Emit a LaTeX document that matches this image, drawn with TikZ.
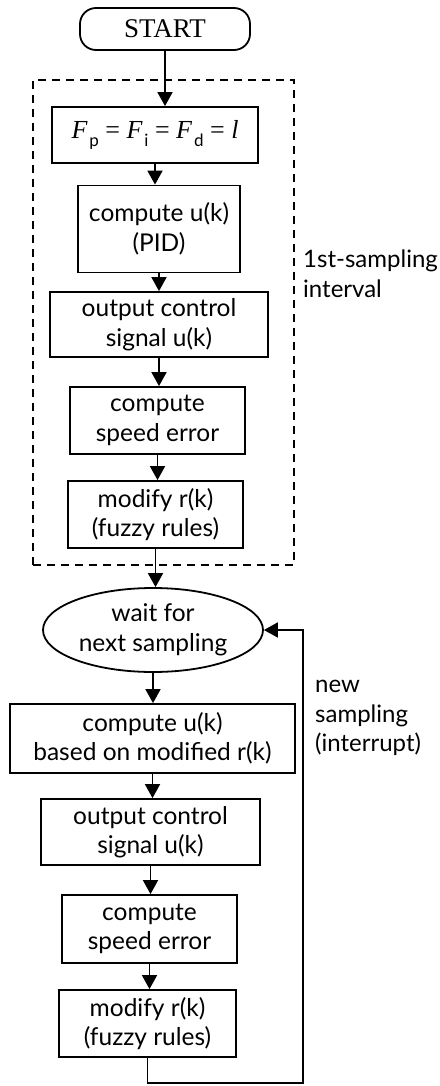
\documentclass[tikz,border=0pt]{standalone}
\usepackage{fontspec}
\setmainfont{Lato}
\newfontfamily\serf{Liberation Serif}
\newfontfamily\subfont{Lato}
\usetikzlibrary{arrows.meta,shapes.geometric}
% italic F with a small upright sans subscript
\newcommand\Fsub[1]{{\serf\itshape F}\kern2pt\raisebox{-8pt}{\subfont\fontsize{17}{17}\selectfont #1}}

\begin{document}
\begin{tikzpicture}[x=1pt,y=-1pt,
  box/.style={draw,line width=1.8pt,inner sep=0pt,align=center,
              font=\fontsize{24.5}{29.5}\selectfont},
  flow/.style={line width=1.8pt,-{Triangle[width=15pt,length=14pt]}},
  frame/.style={draw,line width=1.6pt,dash pattern=on 8pt off 6pt,inner sep=0pt},
  note/.style={inner sep=0pt,align=left,font=\fontsize{24}{29.5}\selectfont},
]
\useasboundingbox (0,0) rectangle (439,1086);
\fill[white] (0,0) rectangle (439,1086);

% first sampling interval
\node[frame, minimum width=261pt, minimum height=485pt] (first) at (163.5,322.5) {};

\node[box, rounded corners=16pt, minimum width=170pt, minimum height=42pt,
      font=\serf\fontsize{27}{30}\selectfont] (start) at (165,29) {START};
\node[box, minimum width=206pt, minimum height=56pt,
      font=\serf\fontsize{26}{30}\selectfont] (init) at (155,135)
      {\Fsub{p} = \Fsub{i} = \Fsub{d} = {\itshape l}};
\node[box, minimum width=162pt, minimum height=87pt] (pid) at (159,229) {compute u(k)\\(PID)};
\node[box, minimum width=218pt, minimum height=65pt] (out1) at (159,324.5) {output control\\signal u(k)};
\node[box, minimum width=175pt, minimum height=67pt] (err1) at (157.5,420.5) {compute\\speed error};
\node[box, minimum width=175pt, minimum height=67pt] (mod1) at (155.5,514.5) {modify r(k)\\(fuzzy rules)};

% regular sampling loop
\node[box, ellipse, minimum width=220pt, minimum height=84pt] (wait) at (153,630) {wait for\\next sampling};
\node[box, minimum width=285pt, minimum height=69pt] (cmp2) at (152.5,738.5) {compute u(k)\\based on modified r(k)};
\node[box, minimum width=219pt, minimum height=66pt] (out2) at (150.5,832) {output control\\signal u(k)};
\node[box, minimum width=175pt, minimum height=68pt] (err2) at (149.5,929) {compute\\speed error};
\node[box, minimum width=177pt, minimum height=67pt] (mod2) at (147.5,1023.5) {modify r(k)\\(fuzzy rules)};

\node[note, anchor=north west] (lab1) at (303,250) {1st-sampling\\interval};
\node[note, anchor=north west] (lab2) at (315,680) {new\\sampling\\(interrupt)};

\draw[flow] (start.south) -- (start.south |- init.north);
\draw[flow] (init.south) -- (init.south |- pid.north);
\draw[flow] (pid.south) -- (pid.south |- out1.north);
\draw[flow] (out1.south) -- (out1.south |- err1.north);
\draw[flow] (err1.south) -- (err1.south |- mod1.north);
\draw[flow] (mod1.south) -- (mod1.south |- wait.north);
\draw[flow] (wait.south) -- (wait.south |- cmp2.north);
\draw[flow] (cmp2.south) -- (cmp2.south |- out2.north);
\draw[flow] (out2.south) -- (out2.south |- err2.north);
\draw[flow] (err2.south) -- (err2.south |- mod2.north);

% loop back on each new sampling
\coordinate (lowleft) at (147.5,1083);
\coordinate (lowright) at (303,1083);
\draw[flow] (mod2.south) -- (lowleft) -- (lowright) -- (lowright |- wait.east) -- (wait.east);
\end{tikzpicture}
\end{document}
